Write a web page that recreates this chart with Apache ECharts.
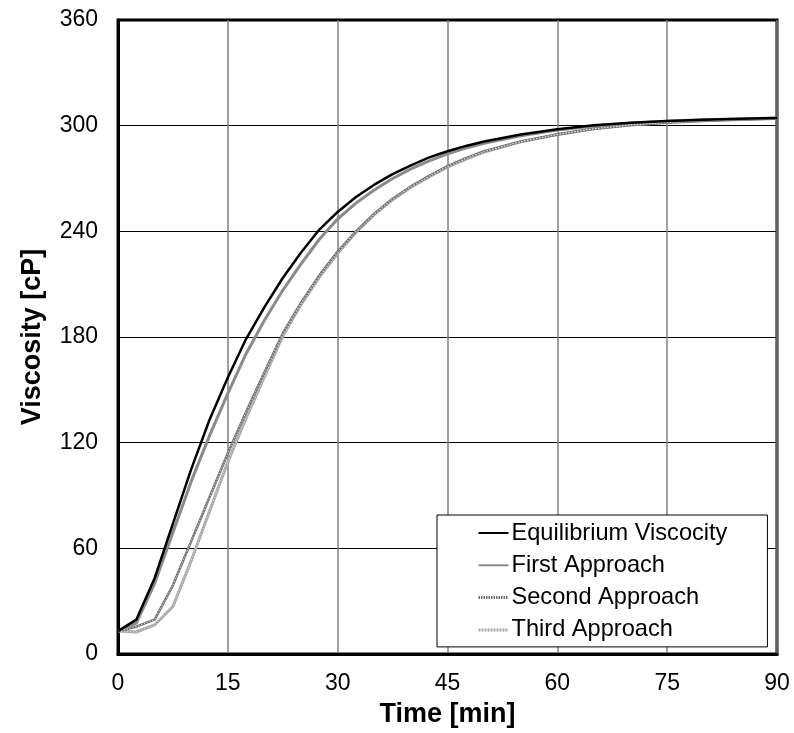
<!DOCTYPE html>
<html>
<head>
<meta charset="utf-8">
<script src="https://cdn.jsdelivr.net/npm/echarts@6/dist/echarts.min.js"></script>
<style>
  html, body { margin: 0; padding: 0; background: #fff; }
  #chart { width: 794px; height: 733px; }
</style>
</head>
<body>
<div id="chart"></div>
<script>
// Time samples [min]
const timeMin = [0, 2.5, 5, 7.5, 10, 12.5, 15, 17.5, 20, 22.5, 25, 27.5, 30, 32.5, 35, 37.5, 40, 42.5, 45, 47.5, 50, 55, 60, 65, 70, 75, 80, 85, 90];

// Viscosity [cP] for each model
const equilibrium = [13, 19.5, 43, 74, 105, 133, 157, 179, 197, 213.5, 228, 241, 251, 259.5, 266.5, 272.5, 277.5, 282, 285.5, 288.5, 291, 295, 298, 300.2, 301.7, 302.7, 303.4, 303.9, 304.3];
const firstApproach = [13, 17.5, 40, 69, 98, 124, 148, 170.5, 189.5, 206.5, 221.5, 235.5, 247, 256, 263.5, 270, 275.5, 280, 284, 287.3, 290, 294.3, 297.5, 299.8, 301.4, 302.5, 303.3, 303.8, 304.3];
const secondApproach = [13, 15.5, 19.5, 39, 64, 89, 114, 137.5, 160, 182, 199.5, 215, 228.5, 240, 250, 258.5, 265.5, 271.5, 277, 281.5, 285.5, 291, 295, 298.3, 300.4, 301.8, 302.8, 303.5, 304];
const thirdApproach = [13, 12.5, 16.5, 27, 53, 81, 109, 134, 157.5, 180.5, 198.5, 214, 227.5, 239.5, 249.5, 258, 265, 271, 276.5, 281, 285, 290.8, 295, 298.2, 300.4, 301.8, 302.8, 303.5, 304];

const xTicks = [0, 15, 30, 45, 60, 75, 90];
const yTicks = [0, 60, 120, 180, 240, 300, 360];

const pairs = vals => timeMin.map((t, i) => [t, vals[i]]);

const FONT = 'Liberation Sans, Arial, sans-serif';

const chart = echarts.init(document.getElementById('chart'), null, { renderer: 'canvas' });

const baseLine = {
  type: 'line',
  showSymbol: false,
  symbol: 'none',
  smooth: false,
  animation: false,
  z: 3
};

chart.setOption({
  backgroundColor: '#fff',
  animation: false,
  grid: {
    left: 118, right: 17, top: 20, bottom: 77,
    show: true, borderColor: '#000', borderWidth: 3, backgroundColor: 'transparent',
    containLabel: false
  },
  xAxis: {
    type: 'value',
    min: xTicks[0], max: xTicks[xTicks.length - 1], interval: 15,
    name: 'Time [min]', nameLocation: 'middle', nameGap: 47,
    nameTextStyle: { fontFamily: FONT, fontSize: 27, fontWeight: 'bold', color: '#000' },
    axisLine: { show: true, lineStyle: { color: '#000', width: 3 } },
    axisTick: { show: false },
    axisLabel: { fontFamily: FONT, fontSize: 23, color: '#000', margin: 18 },
    splitLine: { show: true, lineStyle: { color: '#808080', width: 1.5 } }
  },
  yAxis: {
    type: 'value',
    min: yTicks[0], max: yTicks[yTicks.length - 1], interval: 60,
    name: 'Viscosity [cP]', nameLocation: 'middle', nameGap: 72,
    nameTextStyle: { fontFamily: FONT, fontSize: 27, fontWeight: 'bold', color: '#000' },
    axisLine: { show: true, lineStyle: { color: '#000', width: 3 } },
    axisTick: { show: false },
    axisLabel: { fontFamily: FONT, fontSize: 23, color: '#000', margin: 20 },
    splitLine: { show: true, lineStyle: { color: '#000', width: 1 } }
  },
  legend: {
    orient: 'vertical',
    left: 437, top: 515,
    padding: [6, 40, 5, 40],
    itemWidth: 30, itemHeight: 14, itemGap: 8.3,
    backgroundColor: '#fff',
    borderColor: '#000', borderWidth: 1, borderRadius: 0,
    itemStyle: { opacity: 0 },
    textStyle: { fontFamily: FONT, fontSize: 23.6, color: '#000', lineHeight: 24, padding: [0, 0, 0, -2] },
    data: [
      { name: 'Equilibrium Viscocity' },
      { name: 'First Approach' },
      { name: 'Second Approach', lineStyle: { type: [1.5, 1], width: 3, color: '#707070' } },
      { name: 'Third Approach', lineStyle: { type: [2, 1], width: 3, color: '#a8a8a8' } }
    ]
  },
  series: [
    Object.assign({}, baseLine, {
      name: 'Third Approach',
      data: pairs(thirdApproach),
      color: '#a8a8a8',
      lineStyle: { color: '#a8a8a8', width: 3 }
    }),
    Object.assign({}, baseLine, {
      name: 'Third Approach',
      data: pairs(thirdApproach),
      color: '#a8a8a8',
      lineStyle: { color: '#e8e8e8', width: 1, type: [1, 2] },
      z: 4,
      silent: true
    }),
    Object.assign({}, baseLine, {
      name: 'Second Approach',
      data: pairs(secondApproach),
      color: '#707070',
      lineStyle: { color: '#707070', width: 2.5 }
    }),
    Object.assign({}, baseLine, {
      name: 'Second Approach',
      data: pairs(secondApproach),
      color: '#707070',
      lineStyle: { color: '#ffffff', width: 1, type: [1, 2] },
      z: 4,
      silent: true
    }),
    Object.assign({}, baseLine, {
      name: 'First Approach',
      data: pairs(firstApproach),
      color: '#8a8a8a',
      lineStyle: { color: '#8a8a8a', width: 3 }
    }),
    Object.assign({}, baseLine, {
      name: 'Equilibrium Viscocity',
      data: pairs(equilibrium),
      color: '#000',
      lineStyle: { color: '#000', width: 2.5 },
      z: 5
    })
  ]
});
</script>
</body>
</html>
